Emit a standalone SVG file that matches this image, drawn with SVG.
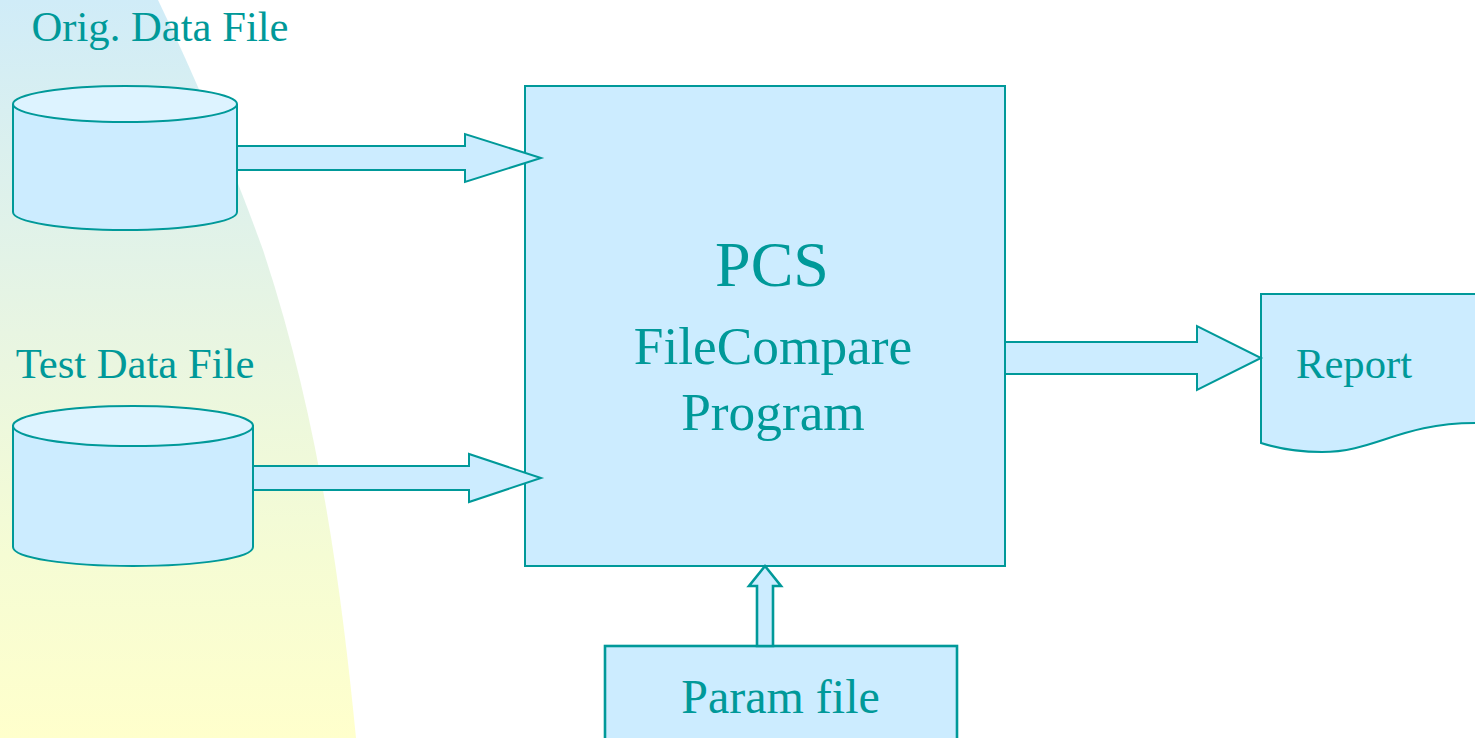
<svg xmlns="http://www.w3.org/2000/svg" width="1475" height="738" viewBox="0 0 1475 738">
<style>
.s{fill:#ccecff;stroke:#009999;stroke-width:2;stroke-linejoin:miter}
.b{stroke-width:2.6}
.t{fill:#ddf3ff;stroke:#009999;stroke-width:2}
text{font-family:"Liberation Serif","Times New Roman",serif;fill:#009999;text-anchor:middle}
</style>
<defs>
<linearGradient id="bg" x1="0" y1="0" x2="0" y2="1">
<stop offset="0" stop-color="#d0ecf8"/>
<stop offset="0.45" stop-color="#e8f5e2"/>
<stop offset="0.75" stop-color="#f5fcd4"/>
<stop offset="1" stop-color="#ffffcc"/>
</linearGradient>
</defs>
<path id="backdrop" d="M0 0H158C198 83 233 167 263 250C317 413 340 575 356 738H0Z" fill="url(#bg)"/>
<g id="orig-data-file">
<path class="s" d="M13 105V212C13 222 63 230 125 230S237 222 237 212V105Z"/>
<ellipse class="t" cx="125" cy="104" rx="112" ry="18"/>
<text x="160" y="41" font-size="42.67">Orig. Data File</text>
</g>
<g id="test-data-file">
<path class="s" d="M13 426V547C13 558 67 566 133 566S253 558 253 547V426Z"/>
<ellipse class="t" cx="133" cy="426" rx="120" ry="20"/>
<text x="135" y="378" font-size="42.67">Test Data File</text>
</g>
<g id="pcs">
<rect class="s" x="525" y="86" width="480" height="480"/>
<text x="772" y="286" font-size="64">PCS</text>
<text x="773" y="364" font-size="53.33">FileCompare</text>
<text x="773" y="430" font-size="53.33">Program</text>
</g>
<g id="report">
<path class="s" d="M1261 294H1476V423C1400 423 1375 452 1322 452C1300 452 1280 449 1261 443Z"/>
<text x="1354" y="378" font-size="42.67">Report</text>
</g>
<g id="param-file">
<rect class="s b" x="605" y="646" width="352" height="100"/>
<text x="780.500" y="713" font-size="48">Param file</text>
</g>
<g id="connectors">
<path class="s" d="M237 146H465V134L541 158L465 182V170H237Z"/>
<path class="s" d="M253 466H469V454L541 478L469 502V490H253Z"/>
<path class="s" d="M1005 342H1197V326L1261 358L1197 390V374H1005Z"/>
<path class="s b" d="M757 646V586H749L765 566L781 586H773V646Z"/>
</g>
</svg>
